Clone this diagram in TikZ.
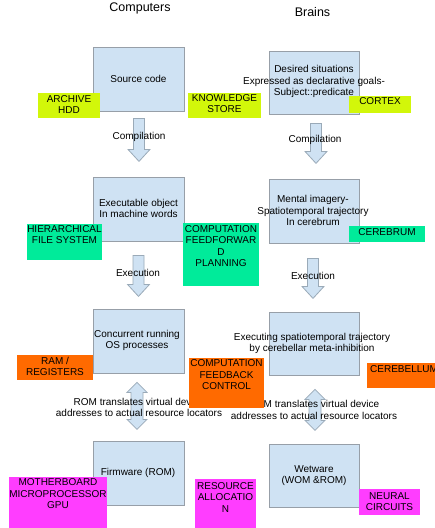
\documentclass[tikz,border=0pt]{standalone}
\usepackage{fontspec}
\setmainfont{Liberation Sans}
\usetikzlibrary{calc}
\definecolor{boxblue}{HTML}{CFE2F3}
\definecolor{boxline}{HTML}{979FA8}
\definecolor{arrline}{HTML}{9AAAB8}
\definecolor{ygreen}{HTML}{D2F70A}
\definecolor{mgreen}{HTML}{00EB9A}
\definecolor{orng}{HTML}{FF6A00}
\definecolor{mgnta}{HTML}{FF3DFF}
\begin{document}
\begin{tikzpicture}[x=1pt,y=-1pt,
  every node/.style={font=\fontsize{10}{11.5}\selectfont, inner sep=0pt, align=center},
  mainbox/.style={draw=boxline, fill=boxblue, line width=0.8pt, minimum width=91pt, minimum height=64pt},
  tagbox/.style={draw=none, minimum width=#1},
  titletxt/.style={font=\fontsize{12.5}{14}\selectfont},
  arrowst/.style={draw=arrline, fill=boxblue, line width=0.8pt, line join=miter},
  pics/downarr/.style={code={\draw[arrowst] (-5.5,0) -- (5.5,0) -- (5.5,#1-12) -- (11,#1-12) -- (0,#1) -- (-11,#1-12) -- (-5.5,#1-12) -- cycle;}},
  pics/dblarr/.style={code={\draw[arrowst] (0,0) -- (10,10) -- (6,10) -- (6,#1-10) -- (10,#1-10) -- (0,#1) -- (-10,#1-10) -- (-6,#1-10) -- (-6,10) -- (-10,10) -- cycle;}}
]
\useasboundingbox (0,0) rectangle (435,528);
\fill[white] (0,0) rectangle (435,528);

% titles
\node[titletxt] (tcomp) at (140,8) {Computers};
\node[titletxt] (tbrain) at (312.5,12) {Brains};

% main boxes
\node[mainbox] (L1) at (138.5,79) {};
\node[mainbox] (L2) at (138.5,209) {};
\node[mainbox] (L3) at (138.5,341) {};
\node[mainbox] (L4) at (138.5,473) {};
\node[mainbox, minimum width=90pt, minimum height=63pt] (R1) at (314,82.5) {};
\node[mainbox, minimum width=90pt, minimum height=64pt] (R2) at (314,211) {};
\node[mainbox, minimum width=90pt, minimum height=63pt] (R3) at (314,343.5) {};
\node[mainbox, minimum width=90pt, minimum height=63pt] (R4) at (314,475.5) {};

% block arrows
\pic at ($(L1.south)+(0.5,7)$) {downarr=43};
\pic at ($(L2.south)+(0,14)$) {downarr=41};
\pic at ($(R1.south)+(2,9)$) {downarr=40};
\pic at ($(R2.south)+(-1,15)$) {downarr=40};
\pic at ($(L3.south)+(-1.5,9)$) {dblarr=47};
\pic at ($(R3.south)+(1,14)$) {dblarr=41};

% box texts
\node (tL1) at (L1) {Source code};
\node (tL2) at (138.5,208.5) {Executable object\\In machine words};
\node (tL3) at (137,340.5) {Concurrent running\\OS processes};
\node (tL4) at (138,473) {Firmware (ROM)};
\node (tR1) at (314,81.5) {Desired situations\\Expressed as declarative goals-\\Subject::predicate};
\node (tR2) at (313,210.5) {Mental imagery-\\Spatiotemporal trajectory\\In cerebrum};
\node (tR3) at (312,343.5) {Executing spatiotemporal trajectory\\by cerebellar meta-inhibition};
\node (tR4) at (314,475.5) {Wetware\\(WOM \&ROM)};

% arrow texts
\node (c1) at (139,137) {Compilation};
\node (c2) at (315,140) {Compilation};
\node (e1) at (138,273) {Execution};
\node (e2) at (313,276) {Execution};
\node (r1) at (139,407.5) {ROM translates virtual device\\addresses to actual resource locators};
\node (r2) at (314,410) {ROM translates virtual device\\addresses to actual resource locators};

% coloured tags
\node[tagbox=62pt, fill=ygreen, minimum height=25pt] (gArch) at (69,105.5) {};
\node (tArch) at (69,104.5) {ARCHIVE\\HDD};
\node[tagbox=73pt, fill=ygreen, minimum height=25pt] (gKnow) at (224.5,105.5) {};
\node (tKnow) at (224.5,103.5) {KNOWLEDGE\\STORE};
\node[tagbox=62pt, fill=ygreen, minimum height=17pt] (gCort) at (380,104.5) {};
\node (tCort) at (380,101) {CORTEX};

\node[tagbox=75pt, fill=mgreen, minimum height=36pt] (gHier) at (64.5,242) {};
\node (tHier) at (64.5,234.5) {HIERARCHICAL\\FILE SYSTEM};
\node[tagbox=76pt, fill=mgreen, minimum height=63pt] (gFeed) at (221,254.5) {};
\node (tFeed) at (221,246) {COMPUTATION\\FEEDFORWAR\\D\\PLANNING};
\node[tagbox=76pt, fill=mgreen, minimum height=16pt] (gCereb) at (387,234) {};
\node (tCereb) at (387,232) {CEREBRUM};

\node[tagbox=76pt, fill=orng, minimum height=25pt] (gRam) at (55,367.5) {};
\node (tRam) at (55,366.5) {RAM /\\REGISTERS};
\node[tagbox=75pt, fill=orng, minimum height=50pt] (gBack) at (226.5,383) {};
\node (tBack) at (226.5,375) {COMPUTATION\\FEEDBACK\\CONTROL};
\node[tagbox=76pt, fill=orng, minimum height=25pt] (gCbl) at (405,375.5) {};
\node[anchor=west] (tCbl) at (370,369) {CEREBELLUM};

\node[tagbox=98pt, fill=mgnta, minimum height=58pt] (gMoth) at (58,506) {};
\node (tMoth) at (58,494) {MOTHERBOARD\\MICROPROCESSOR\\GPU};
\node[tagbox=61pt, fill=mgnta, minimum height=55pt] (gRes) at (225.5,506.5) {};
\node (tRes) at (225.5,497.5) {RESOURCE\\ALLOCATIO\\N};
\node[tagbox=61pt, fill=mgnta, minimum height=26pt] (gNeur) at (389.5,502) {};
\node (tNeur) at (389.5,501.5) {NEURAL\\CIRCUITS};
\end{tikzpicture}
\end{document}
